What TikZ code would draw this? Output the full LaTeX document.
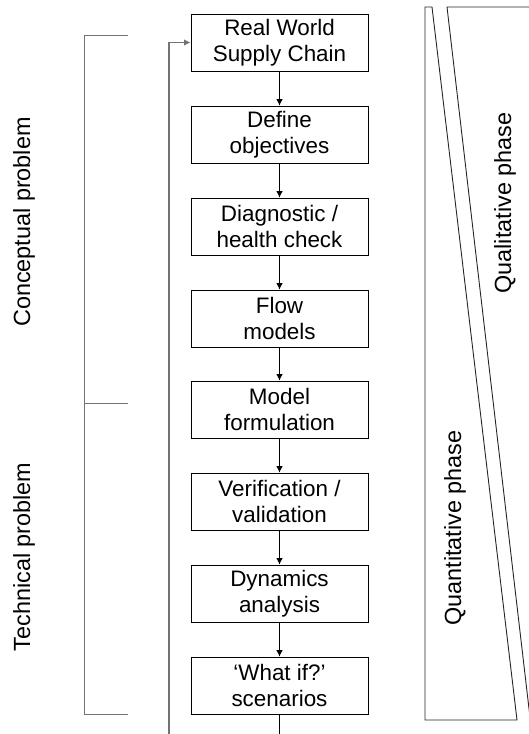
\documentclass[tikz,border=0pt]{standalone}
\usepackage{fontspec}
\setmainfont{Liberation Sans}
\usetikzlibrary{arrows.meta}
\begin{document}
\begin{tikzpicture}[x=1bp,y=-1bp,
  every node/.style={font=\fontsize{22.5}{26.5}\selectfont},
  stepbox/.style={draw, line width=0.8bp, minimum width=177bp, minimum height=57bp,
    inner sep=0pt, align=center},
  flow/.style={line width=0.8bp, -{Latex[length=6.5bp,width=6.5bp]}},
  bracket/.style={draw=black!55, line width=1bp},
  feedback/.style={draw=black!55, line width=1.2bp},
  phase/.style={draw=black!85, line width=0.9bp},
  sidelabel/.style={rotate=90, inner sep=0pt, font=\fontsize{23.5}{28}\selectfont}]
\useasboundingbox (0,0) rectangle (529,734);
\clip (0,0) rectangle (529,734);

% process steps
\node[stepbox] (b1) at (279.5,42.5) {Real World\\Supply Chain};
\node[stepbox] (b2) at (279.5,134.5) {Define\\objectives};
\node[stepbox] (b3) at (279.5,226.5) {Diagnostic /\\health check};
\node[stepbox] (b4) at (279.5,318.5) {Flow\\models};
\node[stepbox] (b5) at (279.5,409.5) {Model\\formulation};
\node[stepbox] (b6) at (279.5,501.5) {Verification /\\validation};
\node[stepbox] (b7) at (279.5,593.5) {Dynamics\\analysis};
\node[stepbox] (b8) at (279.5,685.5) {`What if?'\\scenarios};

\draw[flow] (b1) -- (b2);
\draw[flow] (b2) -- (b3);
\draw[flow] (b3) -- (b4);
\draw[flow] (b4) -- (b5);
\draw[flow] (b5) -- (b6);
\draw[flow] (b6) -- (b7);
\draw[flow] (b7) -- (b8);
\coordinate (out) at (279.5,740);
\draw[line width=0.8bp] (b8) -- (out);

% feedback loop back to the first step
\coordinate (fbin) at (169,740);
\draw[feedback, -{Latex[length=6.5bp,width=6.5bp]}] (fbin) |- (b1.west);

% problem brackets
\coordinate (ct) at (128,36);
\coordinate (cm) at (128,403);
\coordinate (cb) at (128,714);
\draw[bracket] (ct) -- (84,36) -- (84,714) -- (cb);
\draw[bracket] (84,403) -- (cm);
\node[sidelabel] (lconc) at (24,222) {Conceptual problem};
\node[sidelabel] (ltech) at (24,557) {Technical problem};

% phase wedges
\draw[phase] (425,7) -- (432,7) -- (517,720) -- (425,720) -- cycle;
\draw[phase] (540,7) -- (447,7) -- (535,760);
\node[sidelabel] (lqual) at (505,203) {Qualitative phase};
\node[sidelabel] (lquan) at (455,528) {Quantitative phase};
\end{tikzpicture}
\end{document}
